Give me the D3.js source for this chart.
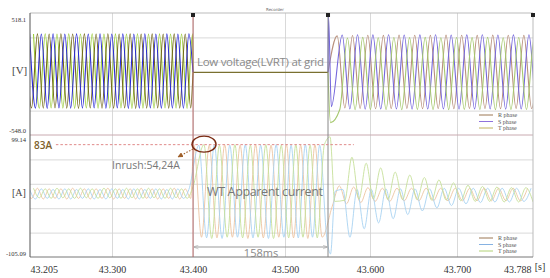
<!DOCTYPE html>
<html>
<head>
<meta charset="utf-8">
<script src="https://cdn.jsdelivr.net/npm/d3@7"></script>
<style>
  body { margin: 0; background: #fff; }
  svg { display: block; }
</style>
</head>
<body>
<svg width="550" height="278"></svg>
<script>
// ---- data ----
const timeTicks = [43.205, 43.3, 43.4, 43.5, 43.6, 43.7, 43.788];
const tickLabels = ["43.205", "43.300", "43.400", "43.500", "43.600", "43.700", "43.788"];
const voltLimits = [-548.0, 518.1];
const ampLimits = [-105.09, 99.14];
const phaseNames = ["R phase", "S phase", "T phase"];

const tFault = 43.400, tClear = 43.5506;    // LVRT dip, 158ms
const tStart = 43.200;
const periodPre = 0.0136, periodFault = 0.0168, periodPostV = 0.018, periodPostA = 0.01675;

// phase offsets (fraction of a period) for first extreme of each segment
const fracPre = [0, 1 / 3, 2 / 3];
const fracFault = [0.05, 0.38, 0.71];
const fracPostV = [0.6, 0.93, 0.77];
const fracPostA = [0.3, 1.04, 1.18];

// voltage extremes [V], alternating
const voltPreR = [334, -312, 336, -314, 335, -311, 337, -313, 334, -315, 336, -312, 335, -314, 337, -313, 334, -312, 336, -315, 335, -313, 336, -312, 334, -314, 336, -313, 335, -312];
const voltPreS = [336, -313, 335, -315, 337, -312, 334, -314, 336, -313, 335, -311, 337, -314, 334, -312, 336, -315, 335, -313, 337, -312, 334, -314, 336, -313, 335, -314, 337, -312];
const voltPreT = [335, -314, 337, -312, 334, -313, 336, -315, 335, -312, 337, -314, 334, -313, 336, -312, 335, -315, 337, -313, 334, -314, 336, -312, 335, -313, 334, -315, 336, -313];
const voltPostR = [318, -312, 322, -316, 324, -318, 323, -317, 325, -316, 324, -318, 323, -317, 325, -318, 324, -316, 323, -317, 325, -318, 324, -316, 323, -317, 324];
const voltPostS = [326, -320, 328, -322, 327, -321, 328, -320, 326, -322, 327, -321, 328, -320, 326, -322, 327, -321, 328, -320, 326, -322, 327, -321, 328, -320, 326];
const voltPostT = [-325, 300, -326, 305, -324, 302, -325, 304, -326, 303, -324, 305, -325, 302, -326, 304, -324, 303, -325, 305, -326, 302, -324, 304, -325, 303, -326];
// recovery transient [time, V]
const voltSpikeR = [];
const voltSpikeS = [[43.5512, 490], [43.5545, -300]];
const voltSpikeT = [[43.5535, -440]];

// current extremes [A], alternating
const ampPreR = [9, -7, 10, -8, 9, -7, 9, -8, 10, -7, 9, -8, 9, -7, 10, -8, 9, -7, 9, -8, 10, -7, 9, -8, 9, -7, 10, -8, 9, -7];
const ampPreS = [8, -8, 9, -7, 8, -8, 9, -8, 8, -7, 9, -8, 8, -8, 9, -7, 8, -8, 9, -8, 8, -7, 9, -8, 8, -8, 9, -7, 8, -8];
const ampPreT = [10, -6, 9, -7, 10, -6, 9, -7, 10, -6, 9, -7, 10, -6, 9, -7, 10, -6, 9, -7, 10, -6, 9, -7, 10, -6, 9, -7, 10, -6];
const ampFaultR = [83, -72, 82, -73, 83, -72, 82, -74, 83, -73, 82, -72, 83, -73, 82, -74, 83, -72];
const ampFaultS = [82, -73, 83, -74, 82, -72, 83, -73, 82, -74, 83, -72, 82, -73, 83, -72, 82, -73];
const ampFaultT = [83, -74, 82, -72, 83, -73, 82, -72, 83, -74, 82, -73, 83, -72, 82, -73, 83, -74];
const ampPostR = [-20, 14, -16, 12, -14, 11, -12, 10, -12, 10, -11, 10, -11, 10, -11, 10, -11, 10, -11, 10, -11, 10, -11, 10, -11, 10, -11, 10];
const ampPostS = [8, -72, 8, -58, 8, -48, 9, -41, 9, -34, 9, -28, 9, -23, 10, -19, 10, -16, 10, -14, 10, -13, 10, -13, 10, -12, 10];
const ampPostT = [-10, 62, -8, 52, -8, 44, -9, 37, -9, 32, -9, 28, -10, 24, -10, 19, -11, 15, -12, 13, -12, 12, -13, 11, -13, 11, -13];
const ampSpikeR = [];
const ampSpikeS = [[43.5535, -100], [43.5590, 5]];
const ampSpikeT = [[43.5530, 96], [43.5585, -12]];

const inrushPeak = 83;

// ---- styles ----
const voltPreColors = ["#74681c", "#2a2ad6", "#9ccc3c"];
const voltPostColors = ["#b8907c", "#7466dc", "#a6c86e"];
const ampColors = ["#ecc4a2", "#a8d2f2", "#c6e09a"];
const legendVColors = ["#9b7652", "#8f72dc", "#c2b25e"];
const legendAColors = ["#9b7652", "#86b2e2", "#b2d276"];

const svg = d3.select("svg");
const plotL = 30, plotR = 533, plotT = 13, plotM = 135, plotB = 257;

const x = d3.scaleLinear().domain(timeTicks).range([30, 112, 193, 285, 370, 457, 533]);
const yV = d3.scaleLinear().domain(voltLimits).range([plotM, plotT]);
const yA = d3.scaleLinear().domain(ampLimits).range([plotB, plotM]);

function wave(t0, period, frac, vals) {
  return vals.map((v, i) => [t0 + (frac + i / 2) * period, v]);
}

const defs = svg.append("defs");
defs.append("clipPath").attr("id", "clipV").append("rect")
  .attr("x", plotL).attr("y", plotT).attr("width", plotR - plotL).attr("height", plotM - plotT);
defs.append("clipPath").attr("id", "clipA").append("rect")
  .attr("x", plotL).attr("y", plotM).attr("width", plotR - plotL).attr("height", plotB - plotM);
defs.append("marker").attr("id", "head").attr("viewBox", "0 0 10 10")
  .attr("refX", 9).attr("refY", 5).attr("markerWidth", 5).attr("markerHeight", 5)
  .attr("orient", "auto-start-reverse")
  .append("path").attr("d", "M0,0L10,5L0,10z").attr("fill", "#a0602a");
defs.append("marker").attr("id", "dim").attr("viewBox", "0 0 10 10")
  .attr("refX", 9).attr("refY", 5).attr("markerWidth", 5).attr("markerHeight", 5)
  .attr("orient", "auto-start-reverse")
  .append("path").attr("d", "M0,1L10,5L0,9").attr("fill", "none").attr("stroke", "#999");

// ---- grid ----
const grid = svg.append("g");
grid.append("g")
  .attr("transform", `translate(0,${plotB})`)
  .call(d3.axisBottom(x).tickValues(timeTicks.slice(1, -1)).tickSize(-(plotB - plotT)).tickFormat(""))
  .call(g => g.select(".domain").remove())
  .call(g => g.selectAll("line").attr("stroke", "#cfcfcf").attr("stroke-width", 0.8));
const vGrid = d3.range(1, 5).map(i => voltLimits[0] + i * (voltLimits[1] - voltLimits[0]) / 5);
const aGrid = d3.range(1, 5).map(i => ampLimits[0] + i * (ampLimits[1] - ampLimits[0]) / 5);
grid.append("g").attr("transform", `translate(${plotL},0)`)
  .call(d3.axisLeft(yV).tickValues(vGrid).tickSize(-(plotR - plotL)).tickFormat(""))
  .call(g => g.select(".domain").remove())
  .call(g => g.selectAll("line").attr("stroke", "#cfcfcf").attr("stroke-width", 0.8));
grid.append("g").attr("transform", `translate(${plotL},0)`)
  .call(d3.axisLeft(yA).tickValues(aGrid).tickSize(-(plotR - plotL)).tickFormat(""))
  .call(g => g.select(".domain").remove())
  .call(g => g.selectAll("line").attr("stroke", "#cfcfcf").attr("stroke-width", 0.8));

// ---- voltage waveforms ----
const lineV = d3.line().x(d => x(d[0])).y(d => yV(d[1])).curve(d3.curveMonotoneX);
const lineA = d3.line().x(d => x(d[0])).y(d => yA(d[1])).curve(d3.curveMonotoneX);

const voltPre = [voltPreR, voltPreS, voltPreT];
const voltPost = [voltPostR, voltPostS, voltPostT];
const voltSpike = [voltSpikeR, voltSpikeS, voltSpikeT];
const gV = svg.append("g").attr("clip-path", "url(#clipV)");

// draw T, R, then S so the blue phase stays visible
[2, 0, 1].forEach(p => {
  const pts = wave(tStart, periodPre, fracPre[p], voltPre[p]).filter(d => d[0] < tFault - 0.0005);
  pts.push([tFault, 0]);
  gV.append("path").attr("d", lineV(pts)).attr("fill", "none")
    .attr("stroke", voltPreColors[p]).attr("stroke-width", 1.1);
});
[0, 1, 2].forEach(p => {
  const spike = voltSpike[p];
  const lastT = spike.length ? spike[spike.length - 1][0] : tClear;
  const pts = [[tClear, 0], ...spike,
    ...wave(tClear, periodPostV, fracPostV[p], voltPost[p]).filter(d => d[0] > lastT)];
  gV.append("path").attr("d", lineV(pts)).attr("fill", "none")
    .attr("stroke", voltPostColors[p]).attr("stroke-width", 1.1);
});
gV.append("path").attr("d", lineV([[tFault, 0], [tClear, 0]]))
  .attr("fill", "none").attr("stroke", "#7a7030").attr("stroke-width", 1.3);

// ---- current waveforms ----
const ampPre = [ampPreR, ampPreS, ampPreT];
const ampFault = [ampFaultR, ampFaultS, ampFaultT];
const ampPost = [ampPostR, ampPostS, ampPostT];
const ampSpike = [ampSpikeR, ampSpikeS, ampSpikeT];
const gA = svg.append("g").attr("clip-path", "url(#clipA)");

[0, 1, 2].forEach(p => {
  const spike = ampSpike[p];
  const lastT = spike.length ? spike[spike.length - 1][0] : tClear;
  const pts = [
    ...wave(tStart, periodPre, fracPre[p], ampPre[p]).filter(d => d[0] < tFault),
    ...wave(tFault, periodFault, fracFault[p], ampFault[p]).filter(d => d[0] < tClear),
    ...spike,
    ...wave(tClear, periodPostA, fracPostA[p], ampPost[p]).filter(d => d[0] > lastT)
  ];
  gA.append("path").attr("d", lineA(pts)).attr("fill", "none")
    .attr("stroke", ampColors[p]).attr("stroke-width", 0.9);
});

// ---- frames ----
svg.append("line").attr("x1", plotL).attr("x2", plotR).attr("y1", plotT).attr("y2", plotT)
  .attr("stroke", "#bbb");
svg.append("line").attr("x1", plotL).attr("x2", plotR).attr("y1", plotM).attr("y2", plotM)
  .attr("stroke", "#c9aab0");
svg.append("line").attr("x1", plotR).attr("x2", plotR).attr("y1", plotT).attr("y2", plotB)
  .attr("stroke", "#bbb");
svg.append("line").attr("x1", plotL).attr("x2", plotR).attr("y1", plotB).attr("y2", plotB)
  .attr("stroke", "#777");
svg.append("line").attr("x1", plotL).attr("x2", plotL).attr("y1", plotT).attr("y2", plotB)
  .attr("stroke", "#555");

// cursors
svg.append("line").attr("x1", x(tFault)).attr("x2", x(tFault)).attr("y1", plotT).attr("y2", plotB)
  .attr("stroke", "#b86a6a").attr("stroke-width", 1);
svg.append("line").attr("x1", x(tClear)).attr("x2", x(tClear)).attr("y1", plotT).attr("y2", plotB)
  .attr("stroke", "#888").attr("stroke-width", 1);
[tFault, tClear, timeTicks[6]].forEach(t => {
  svg.append("rect").attr("x", x(t) - 2).attr("y", plotT).attr("width", 4).attr("height", 4)
    .attr("fill", "#222");
});

svg.append("text").attr("x", 275).attr("y", 11).attr("text-anchor", "middle")
  .attr("font-family", "DejaVu Sans").attr("font-size", 4).attr("fill", "#666").text("Recorder");

// ---- axis labels ----
const serif = "'Liberation Serif', 'DejaVu Serif', serif";
const xAxis = svg.append("g").attr("transform", `translate(0,${plotB})`)
  .call(d3.axisBottom(x).tickValues(timeTicks).tickFormat((d, i) => tickLabels[i]).tickSize(0).tickPadding(9))
  .call(g => g.select(".domain").remove());
xAxis.attr("font-family", null).attr("font-size", null);
xAxis.selectAll("text").style("font-family", serif).style("font-size", "10px").attr("fill", "#333");
xAxis.selectAll(".tick text").filter((d, i) => i === 0).attr("text-anchor", "start");
xAxis.selectAll(".tick text").filter((d, i) => i === 6).attr("text-anchor", "end").attr("dx", -2);
svg.append("text").attr("x", 540).attr("y", 270).attr("text-anchor", "middle")
  .style("font-family", serif).style("font-size", "10px").attr("fill", "#333").text("[s]");

const yLab = [
  { t: voltLimits[1].toFixed(1), y: 22 },
  { t: voltLimits[0].toFixed(1), y: 133 },
  { t: ampLimits[1].toFixed(2), y: 142 },
  { t: ampLimits[0].toFixed(2), y: 256 }
];
svg.selectAll(".ylab").data(yLab).enter().append("text")
  .attr("x", 26).attr("y", d => d.y).attr("text-anchor", "end")
  .style("font-family", serif).style("font-size", "6.5px").attr("fill", "#333").text(d => d.t);
svg.append("text").attr("x", 12).attr("y", 74).style("font-family", serif).style("font-size", "11px")
  .attr("fill", "#444").text("[V]");
svg.append("text").attr("x", 12).attr("y", 196).style("font-family", serif).style("font-size", "10px")
  .attr("fill", "#444").text("[A]");

// ---- legends ----
function legend(y0, colors) {
  phaseNames.forEach((n, i) => {
    const yy = y0 + i * 6.5;
    svg.append("line").attr("x1", 479).attr("x2", 493).attr("y1", yy).attr("y2", yy)
      .attr("stroke", colors[i]).attr("stroke-width", 1);
    svg.append("text").attr("x", 498).attr("y", yy + 2).style("font-family", serif)
      .style("font-size", "6px").attr("fill", "#555").text(n);
  });
}
legend(115, legendVColors);
legend(238, legendAColors);

// ---- annotations ----
const sans = "'Open Sans', 'Noto Sans', sans-serif";
svg.append("text").attr("x", 197).attr("y", 66).attr("font-family", sans).attr("font-size", 11.5)
  .attr("fill", "#8a8a8a").attr("textLength", 127).text("Low voltage(LVRT) at grid");

svg.append("line").attr("x1", x(43.235)).attr("x2", x(43.581))
  .attr("y1", yA(inrushPeak)).attr("y2", yA(inrushPeak))
  .attr("stroke", "#e08a8a").attr("stroke-width", 1).attr("stroke-dasharray", "2.5,2");
svg.append("text").attr("x", 34).attr("y", 149).attr("font-family", sans).attr("font-size", 10)
  .attr("font-weight", 600).attr("fill", "#7d5f2a").text(inrushPeak + "A");
svg.append("ellipse").attr("cx", x(43.412)).attr("cy", yA(inrushPeak) - 0.5)
  .attr("rx", 12).attr("ry", 8).attr("fill", "none").attr("stroke", "#7a2c14").attr("stroke-width", 1.4);
svg.append("line").attr("x1", 193).attr("y1", 149).attr("x2", 178).attr("y2", 157)
  .attr("stroke", "#a0602a").attr("stroke-width", 1.1).attr("stroke-dasharray", "1.5,1.5")
  .attr("marker-end", "url(#head)");
svg.append("text").attr("x", 112).attr("y", 169).attr("font-family", sans).attr("font-size", 10.5)
  .attr("fill", "#777").attr("textLength", 68).text("Inrush:54,24A");

svg.append("text").attr("x", 207).attr("y", 196).attr("font-family", sans).attr("font-size", 12.5)
  .attr("fill", "#777").attr("textLength", 116).text("WT Apparent current");

svg.append("line").attr("x1", x(tFault) + 1).attr("x2", x(tClear) - 1).attr("y1", 247).attr("y2", 247)
  .attr("stroke", "#999").attr("stroke-width", 1)
  .attr("marker-start", "url(#dim)").attr("marker-end", "url(#dim)");
svg.append("text").attr("x", 261).attr("y", 257).attr("text-anchor", "middle")
  .attr("font-family", sans).attr("font-size", 11).attr("fill", "#888").text("158ms");
</script>
</body>
</html>
